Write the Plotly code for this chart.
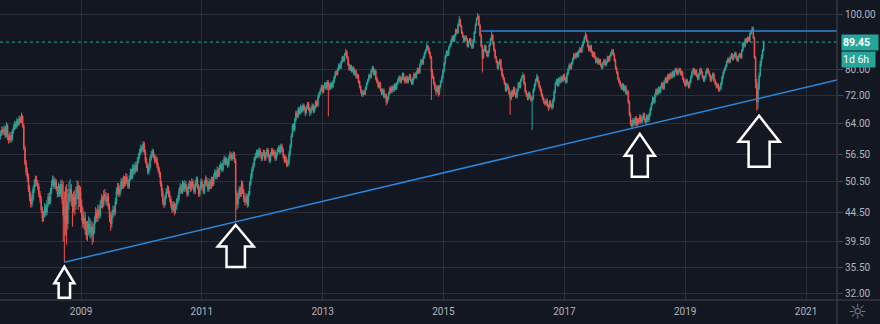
import math
import pandas as pd
import plotly.graph_objects as go

# Weekly bars, first bar on 2007-09-03
FIRST_WEEK = "2007-09-03"

OPEN = [
    60.8, 61.5, 62.5, 61.8, 62.8, 61.0, 63.5, 60.5, 59.8, 61.0,
    60.0, 62.0, 63.0, 64.0, 63.2, 64.8, 64.0, 65.5, 64.8, 66.0,
    63.5, 58.0, 54.5, 52.5, 51.5, 49.0, 47.5, 46.0, 47.0, 49.0,
    50.0, 51.0, 50.0, 49.5, 48.0, 47.0, 45.0, 43.5, 44.0, 45.5,
    44.5, 46.0, 47.5, 46.5, 48.5, 50.0, 51.0, 49.5, 50.5, 49.0,
    48.0, 49.5, 48.0, 50.0, 47.0, 44.0, 43.0, 46.0, 42.5, 46.5,
    48.0, 49.0, 47.0, 45.5, 47.5, 46.0, 48.0, 49.5, 47.0, 48.5,
    46.0, 44.0, 42.5, 43.5, 41.5, 40.5, 41.5, 42.5, 41.0, 42.0,
    40.5, 41.5, 43.0, 44.5, 43.5, 45.0, 44.0, 46.0, 47.0, 46.0,
    48.0, 47.5, 46.5, 47.5, 45.5, 43.5, 42.5, 44.0, 45.0, 44.5,
    46.5, 48.5, 49.5, 48.0, 49.0, 50.5, 49.5, 51.0, 50.0, 51.5,
    50.5, 49.5, 51.0, 52.5, 51.5, 53.5, 52.5, 54.0, 53.0, 55.0,
    56.0, 57.0, 58.0, 57.5, 59.0, 57.0, 55.0, 54.0, 52.5, 53.5,
    55.5, 56.5, 57.0, 56.0, 55.0, 55.5, 54.0, 53.0, 52.0, 50.0,
    48.5, 46.5, 46.0, 47.5, 48.5, 49.0, 48.0, 47.0, 46.0, 45.0,
    46.0, 44.8, 45.5, 46.5, 47.0, 48.5, 49.5, 48.5, 50.0, 49.0,
    50.0, 49.0, 48.0, 49.5, 50.0, 49.0, 50.5, 49.5, 48.5, 50.0,
    51.0, 49.5, 48.0, 49.0, 50.5, 49.5, 48.5, 50.0, 51.0, 50.0,
    49.0, 50.5, 49.5, 51.0, 50.0, 51.5, 52.5, 51.5, 53.0, 52.0,
    53.5, 54.0, 53.0, 54.5, 55.5, 54.5, 55.0, 54.0, 55.5, 56.5,
    55.5, 56.0, 56.5, 55.0, 48.0, 46.0, 47.5, 49.0, 48.0, 50.0,
    48.5, 47.0, 46.5, 47.5, 46.0, 48.0, 50.0, 51.5, 53.0, 54.0,
    55.5, 56.0, 57.0, 56.0, 57.5, 56.5, 55.5, 56.5, 57.0, 55.5,
    56.5, 57.5, 56.0, 55.0, 56.5, 57.5, 56.5, 57.0, 55.5, 56.5,
    57.5, 58.0, 57.0, 58.5, 57.5, 56.0, 55.0, 55.5, 54.0, 54.5,
    56.5, 58.5, 61.0, 63.5, 62.5, 65.0, 67.0, 66.0, 68.0, 67.0,
    68.5, 67.5, 69.0, 68.0, 67.0, 68.5, 69.5, 68.0, 67.0, 68.0,
    69.0, 67.5, 68.5, 70.0, 69.0, 71.5, 72.5, 73.5, 74.5, 73.0,
    74.5, 75.5, 74.0, 76.0, 75.0, 74.0, 75.5, 74.5, 76.0, 77.5,
    79.0, 78.5, 80.0, 81.5, 80.5, 82.5, 84.0, 83.0, 85.0, 86.0,
    84.0, 81.5, 80.0, 81.0, 79.5, 80.5, 78.5, 79.5, 77.5, 78.0,
    76.0, 74.5, 73.0, 72.0, 73.0, 72.5, 74.0, 75.5, 76.5, 78.0,
    77.5, 79.5, 80.5, 78.5, 79.5, 77.0, 76.0, 74.5, 75.5, 73.5,
    72.5, 73.5, 71.5, 72.0, 70.0, 71.0, 72.5, 74.0, 73.0, 74.5,
    73.5, 75.0, 74.0, 75.5, 76.5, 77.5, 76.0, 77.0, 78.5, 77.0,
    76.0, 77.5, 76.0, 77.0, 78.0, 76.5, 75.5, 77.0, 78.5, 77.5,
    79.0, 80.0, 79.0, 81.5, 83.0, 82.0, 84.0, 85.5, 86.5, 88.0,
    87.0, 85.5, 84.0, 79.0, 77.5, 75.5, 74.0, 73.0, 74.5, 72.5,
    74.5, 76.0, 77.5, 79.5, 82.0, 84.5, 86.0, 85.0, 87.5, 88.5,
    90.0, 91.5, 90.0, 92.0, 94.0, 93.0, 96.0, 98.0, 95.5, 93.0,
    91.5, 90.0, 91.5, 90.5, 88.0, 89.5, 90.5, 88.5, 87.5, 90.0,
    93.0, 96.0, 98.5, 99.5, 96.0, 92.0, 88.0, 84.0, 86.5, 88.0,
    86.0, 84.5, 86.0, 88.5, 90.5, 92.0, 89.0, 86.5, 84.0, 82.5,
    80.5, 82.0, 83.0, 80.0, 78.0, 77.0, 75.5, 73.5, 75.0, 74.0,
    72.5, 71.0, 73.0, 72.0, 74.0, 72.5, 71.5, 73.5, 75.5, 74.5,
    76.5, 77.5, 78.0, 75.5, 73.0, 72.0, 71.0, 72.5, 71.5, 70.5,
    71.0, 73.5, 75.0, 76.5, 77.5, 76.0, 74.5, 73.5, 72.0, 71.0,
    70.0, 69.5, 70.5, 69.0, 68.5, 70.0, 69.0, 68.5, 70.5, 73.0,
    75.5, 76.5, 75.0, 77.0, 76.0, 77.5, 76.5, 78.0, 77.0, 76.0,
    78.5, 80.0, 81.5, 80.5, 82.0, 83.5, 85.0, 84.0, 85.5, 84.5,
    86.0, 87.0, 86.0, 88.0, 89.5, 91.0, 92.0, 90.0, 88.0, 86.5,
    88.0, 86.0, 84.5, 85.5, 84.0, 82.5, 83.5, 82.0, 83.0, 81.5,
    80.5, 82.0, 83.0, 81.5, 82.5, 84.0, 83.0, 84.5, 85.5, 86.5,
    85.0, 83.0, 80.5, 79.0, 77.0, 76.0, 75.0, 74.0, 75.0, 73.5,
    74.5, 72.5, 73.0, 70.0, 66.5, 64.0, 63.5, 65.0, 64.0, 65.5,
    63.8, 65.0, 64.5, 66.0, 64.5, 65.5, 66.5, 65.0, 64.5, 66.0,
    65.0, 66.5, 68.0, 69.5, 71.0, 70.0, 72.0, 73.5, 72.5, 74.0,
    73.0, 74.5, 75.5, 74.0, 76.0, 77.0, 76.0, 78.0, 77.0, 78.5,
    77.5, 79.0, 78.0, 79.5, 80.0, 78.5, 79.5, 80.0, 78.5, 79.0,
    77.0, 76.0, 75.0, 76.5, 75.5, 74.5, 76.0, 77.5, 79.0, 80.0,
    78.5, 79.5, 78.0, 77.0, 78.5, 80.0, 79.0, 77.5, 76.5, 77.5,
    79.0, 80.0, 79.0, 78.0, 76.5, 77.5, 78.5, 76.5, 75.5, 74.5,
    75.0, 73.5, 74.0, 75.5, 77.5, 79.0, 80.0, 81.0, 82.5, 83.5,
    82.5, 84.0, 85.0, 83.5, 84.5, 85.5, 84.0, 83.0, 84.5, 85.0,
    84.0, 86.5, 89.0, 88.0, 90.5, 89.5, 91.0, 90.0, 92.5, 93.5,
    94.5, 91.0, 84.0, 76.0, 70.0, 74.0, 78.0, 82.0, 84.0, 86.5,
]

HIGH = [
    62.3, 63.4, 63.2, 63.6, 63.5, 64.5, 64.0, 61.5, 62.0, 61.8,
    62.6, 63.8, 64.8, 64.6, 65.5, 65.3, 66.2, 66.0, 67.0, 66.4,
    64.0, 58.6, 55.2, 53.5, 52.2, 49.8, 48.5, 48.0, 49.6, 51.0,
    51.8, 51.7, 50.8, 50.2, 48.6, 47.6, 45.6, 44.8, 46.3, 46.0,
    46.8, 48.2, 48.3, 49.2, 50.8, 51.8, 51.6, 51.2, 51.0, 49.6,
    50.3, 50.0, 50.8, 51.0, 50.5, 48.5, 49.5, 50.0, 49.0, 50.5,
    51.0, 50.0, 48.0, 48.5, 48.8, 49.5, 50.8, 50.6, 49.8, 49.5,
    47.0, 45.5, 44.8, 44.5, 43.0, 43.0, 43.8, 43.5, 43.2, 42.8,
    42.5, 43.8, 45.5, 45.2, 46.0, 45.8, 46.8, 48.0, 47.6, 48.8,
    49.0, 48.4, 48.2, 48.2, 46.2, 44.5, 44.8, 45.8, 45.7, 47.2,
    49.3, 50.3, 50.2, 49.8, 51.2, 51.3, 51.8, 51.7, 52.3, 52.2,
    51.0, 51.8, 53.3, 53.2, 54.3, 54.2, 54.8, 54.6, 55.8, 56.8,
    57.8, 58.8, 58.6, 59.6, 59.5, 57.6, 55.8, 54.6, 54.3, 56.2,
    57.3, 57.8, 57.6, 56.6, 56.2, 56.0, 54.6, 53.6, 52.6, 50.6,
    49.2, 47.4, 48.0, 49.2, 49.8, 49.6, 48.6, 47.6, 46.6, 46.6,
    46.5, 46.2, 47.2, 47.8, 49.2, 50.2, 50.0, 50.8, 50.6, 50.8,
    50.6, 49.6, 50.2, 50.8, 50.6, 51.2, 51.0, 50.0, 50.8, 51.6,
    51.5, 50.0, 49.6, 51.2, 51.0, 50.0, 50.8, 51.8, 51.5, 50.6,
    51.2, 51.0, 51.6, 51.5, 52.2, 53.2, 53.0, 53.8, 53.5, 54.2,
    54.8, 54.5, 55.2, 56.2, 56.0, 55.8, 55.5, 56.2, 57.2, 57.0,
    56.8, 57.2, 57.0, 55.6, 48.6, 48.3, 49.6, 49.5, 50.8, 50.6,
    49.0, 47.8, 48.2, 48.0, 48.6, 50.6, 52.2, 53.6, 54.6, 56.0,
    56.8, 57.6, 57.5, 58.0, 58.0, 57.0, 57.0, 57.6, 57.5, 57.0,
    58.0, 58.0, 56.6, 57.0, 58.0, 58.0, 57.6, 57.5, 57.0, 58.0,
    58.6, 58.6, 59.0, 59.0, 58.0, 56.5, 56.2, 56.0, 55.2, 57.2,
    59.0, 61.6, 64.0, 64.2, 65.6, 67.6, 67.5, 68.6, 68.5, 69.2,
    69.0, 69.6, 69.5, 68.6, 69.0, 70.0, 70.0, 68.6, 68.6, 69.6,
    69.5, 69.0, 70.6, 70.5, 72.0, 73.0, 74.0, 75.2, 75.0, 75.0,
    76.0, 76.0, 76.6, 76.5, 75.5, 76.0, 76.0, 76.6, 78.0, 79.6,
    79.6, 80.6, 82.0, 82.0, 83.0, 84.6, 84.5, 85.6, 87.0, 86.5,
    84.5, 82.0, 81.6, 81.5, 81.0, 81.0, 80.0, 80.0, 78.6, 78.5,
    76.5, 75.0, 73.6, 73.6, 73.5, 74.6, 76.0, 77.0, 78.6, 78.6,
    80.0, 81.2, 81.0, 80.0, 80.0, 77.6, 76.5, 76.0, 76.0, 74.0,
    74.0, 74.0, 72.6, 72.5, 71.6, 73.0, 74.6, 74.6, 75.0, 75.0,
    75.6, 75.5, 76.0, 77.0, 78.0, 78.0, 77.6, 79.0, 79.0, 77.5,
    78.0, 78.0, 77.6, 78.6, 78.5, 77.0, 77.6, 79.0, 79.0, 79.6,
    80.6, 80.5, 82.0, 83.6, 83.5, 84.6, 86.0, 87.0, 89.0, 88.5,
    87.6, 86.0, 84.5, 80.0, 78.0, 76.0, 75.0, 75.0, 75.0, 75.0,
    76.5, 78.0, 80.0, 82.6, 85.0, 86.6, 86.5, 88.0, 89.0, 90.6,
    92.0, 92.0, 92.6, 94.6, 94.5, 96.6, 99.5, 98.5, 96.0, 93.5,
    92.0, 92.0, 92.0, 91.0, 90.0, 91.0, 91.0, 89.0, 90.6, 93.6,
    96.6, 99.0, 100.8, 100.0, 96.5, 92.5, 88.5, 87.0, 88.6, 88.5,
    86.5, 86.6, 89.0, 91.0, 93.6, 92.5, 89.5, 87.0, 84.5, 83.0,
    82.6, 83.6, 83.5, 80.5, 78.5, 77.5, 76.0, 75.6, 75.5, 74.5,
    73.0, 73.5, 73.5, 74.6, 74.5, 73.0, 74.0, 76.0, 76.0, 77.0,
    78.0, 79.0, 78.5, 76.0, 73.5, 72.5, 73.0, 73.0, 72.0, 71.6,
    74.0, 75.6, 77.0, 78.5, 78.0, 76.5, 75.0, 74.0, 72.5, 71.5,
    70.5, 71.0, 71.0, 69.5, 70.5, 70.5, 69.5, 71.0, 73.5, 76.0,
    77.0, 77.0, 77.5, 77.6, 78.0, 78.0, 78.5, 78.6, 77.5, 79.0,
    80.6, 82.0, 82.0, 82.6, 84.0, 85.6, 85.5, 86.0, 86.0, 86.6,
    87.6, 87.5, 88.6, 90.0, 91.6, 93.5, 92.5, 90.5, 88.5, 88.6,
    88.5, 86.5, 86.0, 86.0, 84.5, 84.0, 84.0, 83.6, 83.5, 82.0,
    82.5, 83.6, 83.5, 83.0, 84.6, 84.5, 85.0, 86.0, 87.0, 87.0,
    85.5, 83.5, 81.0, 79.5, 77.5, 76.5, 75.5, 75.6, 75.5, 75.0,
    75.0, 73.6, 73.5, 70.5, 67.0, 65.0, 65.6, 65.5, 66.0, 66.0,
    65.5, 65.6, 66.6, 66.5, 66.0, 67.0, 67.0, 65.5, 66.6, 66.5,
    67.0, 68.6, 70.0, 71.6, 71.5, 72.6, 74.0, 74.0, 74.6, 74.5,
    75.0, 76.0, 76.0, 76.6, 77.6, 77.5, 78.6, 78.5, 79.0, 79.0,
    79.6, 79.5, 80.0, 80.6, 80.5, 80.0, 80.6, 80.5, 79.6, 79.5,
    77.5, 76.5, 77.0, 77.0, 76.0, 76.5, 78.0, 79.6, 80.6, 80.5,
    80.0, 80.0, 78.5, 79.0, 80.6, 80.5, 79.5, 78.0, 78.0, 79.6,
    80.6, 80.5, 79.5, 78.5, 78.0, 79.0, 79.0, 77.0, 76.0, 75.6,
    75.5, 74.6, 76.0, 78.0, 79.6, 80.6, 81.6, 83.0, 84.0, 84.0,
    84.6, 85.6, 85.5, 85.0, 86.0, 86.0, 84.5, 85.0, 85.6, 85.5,
    87.0, 89.6, 89.5, 91.0, 91.0, 91.6, 91.5, 93.0, 94.0, 95.5,
    95.2, 91.5, 84.5, 77.0, 75.0, 79.0, 83.0, 85.0, 87.0, 90.0,
]

LOW = [
    60.0, 60.9, 61.2, 61.0, 60.3, 60.6, 59.8, 59.0, 59.2, 59.3,
    59.6, 61.4, 62.4, 62.6, 62.8, 63.5, 63.5, 64.2, 64.2, 63.0,
    57.4, 54.0, 51.8, 50.5, 48.4, 46.6, 45.4, 45.5, 46.5, 48.2,
    49.4, 49.6, 48.8, 47.4, 46.3, 44.4, 42.8, 42.9, 43.6, 43.8,
    44.0, 45.5, 46.0, 46.0, 48.0, 49.5, 49.0, 49.0, 48.6, 47.3,
    47.5, 47.4, 47.5, 46.0, 39.5, 36.3, 40.5, 39.0, 41.5, 45.0,
    46.5, 45.8, 42.0, 44.5, 44.0, 45.0, 47.0, 45.0, 45.5, 44.5,
    43.0, 41.8, 41.5, 40.6, 39.8, 39.6, 40.6, 40.2, 40.0, 39.0,
    39.4, 40.8, 42.5, 42.8, 42.8, 43.3, 43.5, 45.3, 45.2, 45.5,
    46.8, 45.8, 45.8, 45.0, 42.8, 41.3, 41.8, 43.4, 43.8, 44.0,
    46.0, 47.8, 47.4, 47.5, 48.5, 49.0, 49.0, 49.4, 49.6, 50.0,
    49.0, 49.0, 50.6, 51.0, 51.0, 52.0, 52.0, 52.5, 52.6, 54.4,
    55.4, 56.4, 56.8, 57.0, 56.4, 54.5, 53.4, 52.0, 52.0, 53.0,
    55.0, 55.8, 55.5, 54.4, 54.5, 53.4, 52.4, 51.4, 49.5, 47.5,
    45.8, 45.3, 45.6, 47.0, 48.0, 47.4, 46.4, 45.4, 44.4, 44.6,
    44.0, 44.3, 45.0, 46.0, 46.6, 48.0, 48.0, 48.0, 48.5, 48.4,
    48.5, 47.4, 47.6, 49.0, 48.4, 48.6, 49.0, 48.0, 48.0, 49.4,
    49.0, 47.4, 47.5, 48.6, 49.0, 48.0, 48.0, 49.5, 49.5, 48.4,
    48.5, 49.0, 49.0, 49.5, 49.6, 51.0, 51.0, 51.0, 51.5, 51.5,
    53.0, 52.5, 52.6, 54.0, 54.0, 54.0, 53.4, 53.6, 55.0, 55.0,
    55.0, 55.4, 54.5, 42.9, 45.0, 45.3, 47.0, 47.4, 47.5, 48.0,
    46.4, 45.8, 46.0, 45.4, 45.6, 47.6, 49.6, 51.0, 52.6, 53.6,
    55.0, 55.6, 55.6, 55.6, 56.0, 55.0, 55.0, 56.0, 55.0, 55.0,
    56.0, 55.6, 54.5, 54.6, 56.0, 56.0, 56.0, 55.0, 55.0, 56.0,
    57.0, 56.5, 56.6, 57.0, 55.5, 54.5, 54.6, 53.6, 53.6, 54.0,
    56.0, 58.0, 60.5, 62.0, 62.0, 64.5, 65.5, 65.5, 66.5, 66.5,
    67.0, 67.0, 67.5, 66.0, 66.5, 68.0, 67.5, 66.0, 66.4, 67.5,
    66.8, 67.0, 68.0, 68.5, 68.6, 71.0, 72.0, 73.0, 72.5, 72.5,
    74.0, 73.5, 73.5, 66.0, 73.5, 73.5, 74.0, 74.0, 75.5, 77.0,
    78.0, 78.0, 79.5, 80.0, 80.0, 82.0, 82.5, 82.5, 84.5, 83.5,
    81.0, 79.5, 79.5, 79.0, 79.0, 78.0, 78.0, 77.0, 77.0, 75.5,
    74.0, 72.5, 71.5, 71.5, 72.0, 72.0, 73.5, 75.0, 76.0, 77.0,
    77.0, 79.0, 78.0, 78.0, 76.5, 75.5, 74.0, 74.0, 73.0, 72.0,
    72.0, 71.0, 71.0, 69.0, 69.5, 70.5, 72.0, 72.5, 72.5, 73.0,
    73.0, 73.5, 73.5, 75.0, 76.0, 75.5, 75.5, 76.5, 76.5, 75.5,
    75.5, 75.5, 75.5, 76.5, 76.0, 75.0, 75.0, 76.5, 77.0, 77.0,
    78.5, 78.5, 78.5, 81.0, 81.5, 81.5, 83.5, 85.0, 86.0, 86.5,
    85.0, 83.5, 70.6, 77.0, 75.0, 73.5, 72.0, 72.5, 71.5, 72.0,
    74.0, 75.5, 77.0, 79.0, 81.5, 84.0, 84.5, 84.5, 87.0, 88.0,
    89.5, 89.5, 89.5, 91.5, 92.5, 92.5, 95.5, 95.0, 92.5, 91.0,
    89.5, 89.5, 90.0, 87.5, 87.5, 89.0, 88.0, 87.0, 87.0, 89.5,
    92.5, 95.5, 98.0, 95.5, 91.5, 87.5, 79.0, 83.5, 86.0, 85.5,
    84.0, 84.0, 85.5, 88.0, 90.0, 88.5, 86.0, 83.5, 82.0, 80.0,
    80.0, 81.5, 79.5, 77.5, 76.5, 75.0, 73.0, 73.0, 73.5, 72.0,
    66.4, 70.5, 71.5, 71.5, 72.0, 71.0, 71.0, 73.0, 74.0, 74.0,
    76.0, 77.0, 75.0, 72.5, 71.5, 70.5, 70.5, 71.0, 70.0, 62.4,
    70.5, 73.0, 74.5, 76.0, 75.5, 74.0, 73.0, 71.5, 70.5, 69.5,
    69.0, 69.0, 68.5, 67.5, 68.0, 68.5, 67.8, 68.0, 70.0, 72.5,
    75.0, 74.5, 74.5, 75.5, 75.5, 76.0, 76.0, 76.5, 75.5, 75.5,
    78.0, 79.5, 80.0, 80.0, 81.5, 83.0, 83.5, 83.5, 84.0, 84.0,
    85.5, 85.5, 85.5, 87.5, 89.0, 90.5, 89.5, 87.5, 86.0, 86.0,
    85.5, 84.0, 84.0, 83.5, 82.0, 82.0, 81.5, 81.5, 81.0, 80.0,
    80.0, 81.5, 81.0, 81.0, 82.0, 82.5, 82.5, 84.0, 85.0, 84.5,
    82.5, 80.0, 78.5, 76.5, 75.5, 74.5, 73.5, 73.5, 73.0, 73.0,
    72.0, 72.0, 69.5, 66.0, 63.5, 63.0, 63.0, 63.5, 63.5, 63.3,
    63.5, 63.8, 64.0, 64.0, 64.0, 65.0, 64.5, 64.0, 64.0, 64.5,
    64.5, 66.0, 67.5, 69.0, 69.5, 69.5, 71.5, 72.0, 72.0, 72.5,
    72.5, 74.0, 73.5, 73.5, 75.5, 75.5, 75.5, 76.5, 76.5, 77.0,
    77.0, 77.5, 77.5, 79.0, 78.0, 78.0, 79.0, 78.0, 78.0, 76.5,
    75.5, 74.5, 74.5, 75.0, 74.0, 74.0, 75.5, 77.0, 78.5, 78.0,
    78.0, 77.5, 76.5, 76.5, 78.0, 78.5, 77.0, 76.0, 76.0, 77.0,
    78.5, 78.5, 77.5, 76.0, 76.0, 77.0, 76.0, 75.0, 74.0, 74.0,
    73.0, 73.0, 73.5, 75.0, 77.0, 78.5, 79.5, 80.5, 82.0, 82.0,
    82.0, 83.5, 83.0, 83.0, 84.0, 83.5, 82.5, 82.5, 84.0, 83.5,
    83.5, 86.0, 87.5, 87.5, 89.0, 89.0, 89.5, 89.5, 92.0, 93.0,
    90.5, 83.5, 74.0, 67.5, 68.0, 73.5, 77.5, 81.0, 83.5, 86.0,
]

CLOSE = [
    61.5, 62.5, 61.8, 62.8, 61.0, 63.5, 60.5, 59.8, 61.0, 60.0,
    62.0, 63.0, 64.0, 63.2, 64.8, 64.0, 65.5, 64.8, 66.0, 63.5,
    58.0, 54.5, 52.5, 51.5, 49.0, 47.5, 46.0, 47.0, 49.0, 50.0,
    51.0, 50.0, 49.5, 48.0, 47.0, 45.0, 43.5, 44.0, 45.5, 44.5,
    46.0, 47.5, 46.5, 48.5, 50.0, 51.0, 49.5, 50.5, 49.0, 48.0,
    49.5, 48.0, 50.0, 47.0, 44.0, 43.0, 46.0, 42.5, 46.5, 48.0,
    49.0, 47.0, 45.5, 47.5, 46.0, 48.0, 49.5, 47.0, 48.5, 46.0,
    44.0, 42.5, 43.5, 41.5, 40.5, 41.5, 42.5, 41.0, 42.0, 40.5,
    41.5, 43.0, 44.5, 43.5, 45.0, 44.0, 46.0, 47.0, 46.0, 48.0,
    47.5, 46.5, 47.5, 45.5, 43.5, 42.5, 44.0, 45.0, 44.5, 46.5,
    48.5, 49.5, 48.0, 49.0, 50.5, 49.5, 51.0, 50.0, 51.5, 50.5,
    49.5, 51.0, 52.5, 51.5, 53.5, 52.5, 54.0, 53.0, 55.0, 56.0,
    57.0, 58.0, 57.5, 59.0, 57.0, 55.0, 54.0, 52.5, 53.5, 55.5,
    56.5, 57.0, 56.0, 55.0, 55.5, 54.0, 53.0, 52.0, 50.0, 48.5,
    46.5, 46.0, 47.5, 48.5, 49.0, 48.0, 47.0, 46.0, 45.0, 46.0,
    44.8, 45.5, 46.5, 47.0, 48.5, 49.5, 48.5, 50.0, 49.0, 50.0,
    49.0, 48.0, 49.5, 50.0, 49.0, 50.5, 49.5, 48.5, 50.0, 51.0,
    49.5, 48.0, 49.0, 50.5, 49.5, 48.5, 50.0, 51.0, 50.0, 49.0,
    50.5, 49.5, 51.0, 50.0, 51.5, 52.5, 51.5, 53.0, 52.0, 53.5,
    54.0, 53.0, 54.5, 55.5, 54.5, 55.0, 54.0, 55.5, 56.5, 55.5,
    56.0, 56.5, 55.0, 48.0, 46.0, 47.5, 49.0, 48.0, 50.0, 48.5,
    47.0, 46.5, 47.5, 46.0, 48.0, 50.0, 51.5, 53.0, 54.0, 55.5,
    56.0, 57.0, 56.0, 57.5, 56.5, 55.5, 56.5, 57.0, 55.5, 56.5,
    57.5, 56.0, 55.0, 56.5, 57.5, 56.5, 57.0, 55.5, 56.5, 57.5,
    58.0, 57.0, 58.5, 57.5, 56.0, 55.0, 55.5, 54.0, 54.5, 56.5,
    58.5, 61.0, 63.5, 62.5, 65.0, 67.0, 66.0, 68.0, 67.0, 68.5,
    67.5, 69.0, 68.0, 67.0, 68.5, 69.5, 68.0, 67.0, 68.0, 69.0,
    67.5, 68.5, 70.0, 69.0, 71.5, 72.5, 73.5, 74.5, 73.0, 74.5,
    75.5, 74.0, 76.0, 75.0, 74.0, 75.5, 74.5, 76.0, 77.5, 79.0,
    78.5, 80.0, 81.5, 80.5, 82.5, 84.0, 83.0, 85.0, 86.0, 84.0,
    81.5, 80.0, 81.0, 79.5, 80.5, 78.5, 79.5, 77.5, 78.0, 76.0,
    74.5, 73.0, 72.0, 73.0, 72.5, 74.0, 75.5, 76.5, 78.0, 77.5,
    79.5, 80.5, 78.5, 79.5, 77.0, 76.0, 74.5, 75.5, 73.5, 72.5,
    73.5, 71.5, 72.0, 70.0, 71.0, 72.5, 74.0, 73.0, 74.5, 73.5,
    75.0, 74.0, 75.5, 76.5, 77.5, 76.0, 77.0, 78.5, 77.0, 76.0,
    77.5, 76.0, 77.0, 78.0, 76.5, 75.5, 77.0, 78.5, 77.5, 79.0,
    80.0, 79.0, 81.5, 83.0, 82.0, 84.0, 85.5, 86.5, 88.0, 87.0,
    85.5, 84.0, 79.0, 77.5, 75.5, 74.0, 73.0, 74.5, 72.5, 74.5,
    76.0, 77.5, 79.5, 82.0, 84.5, 86.0, 85.0, 87.5, 88.5, 90.0,
    91.5, 90.0, 92.0, 94.0, 93.0, 96.0, 98.0, 95.5, 93.0, 91.5,
    90.0, 91.5, 90.5, 88.0, 89.5, 90.5, 88.5, 87.5, 90.0, 93.0,
    96.0, 98.5, 99.5, 96.0, 92.0, 88.0, 84.0, 86.5, 88.0, 86.0,
    84.5, 86.0, 88.5, 90.5, 92.0, 89.0, 86.5, 84.0, 82.5, 80.5,
    82.0, 83.0, 80.0, 78.0, 77.0, 75.5, 73.5, 75.0, 74.0, 72.5,
    71.0, 73.0, 72.0, 74.0, 72.5, 71.5, 73.5, 75.5, 74.5, 76.5,
    77.5, 78.0, 75.5, 73.0, 72.0, 71.0, 72.5, 71.5, 70.5, 71.0,
    73.5, 75.0, 76.5, 77.5, 76.0, 74.5, 73.5, 72.0, 71.0, 70.0,
    69.5, 70.5, 69.0, 68.5, 70.0, 69.0, 68.5, 70.5, 73.0, 75.5,
    76.5, 75.0, 77.0, 76.0, 77.5, 76.5, 78.0, 77.0, 76.0, 78.5,
    80.0, 81.5, 80.5, 82.0, 83.5, 85.0, 84.0, 85.5, 84.5, 86.0,
    87.0, 86.0, 88.0, 89.5, 91.0, 92.0, 90.0, 88.0, 86.5, 88.0,
    86.0, 84.5, 85.5, 84.0, 82.5, 83.5, 82.0, 83.0, 81.5, 80.5,
    82.0, 83.0, 81.5, 82.5, 84.0, 83.0, 84.5, 85.5, 86.5, 85.0,
    83.0, 80.5, 79.0, 77.0, 76.0, 75.0, 74.0, 75.0, 73.5, 74.5,
    72.5, 73.0, 70.0, 66.5, 64.0, 63.5, 65.0, 64.0, 65.5, 63.8,
    65.0, 64.5, 66.0, 64.5, 65.5, 66.5, 65.0, 64.5, 66.0, 65.0,
    66.5, 68.0, 69.5, 71.0, 70.0, 72.0, 73.5, 72.5, 74.0, 73.0,
    74.5, 75.5, 74.0, 76.0, 77.0, 76.0, 78.0, 77.0, 78.5, 77.5,
    79.0, 78.0, 79.5, 80.0, 78.5, 79.5, 80.0, 78.5, 79.0, 77.0,
    76.0, 75.0, 76.5, 75.5, 74.5, 76.0, 77.5, 79.0, 80.0, 78.5,
    79.5, 78.0, 77.0, 78.5, 80.0, 79.0, 77.5, 76.5, 77.5, 79.0,
    80.0, 79.0, 78.0, 76.5, 77.5, 78.5, 76.5, 75.5, 74.5, 75.0,
    73.5, 74.0, 75.5, 77.5, 79.0, 80.0, 81.0, 82.5, 83.5, 82.5,
    84.0, 85.0, 83.5, 84.5, 85.5, 84.0, 83.0, 84.5, 85.0, 84.0,
    86.5, 89.0, 88.0, 90.5, 89.5, 91.0, 90.0, 92.5, 93.5, 94.5,
    91.0, 84.0, 76.0, 70.0, 74.0, 78.0, 82.0, 84.0, 86.5, 89.45,
]

LAST_PRICE = 89.45
BAR_COUNTDOWN = "1d 6h"

# Support trend line (two lows, extended to the right edge) and resistance level
TREND_DATES = ["2008-09-22", "2021-07-07"]
TREND_PRICES = [36.3, 76.6]
RESIST_DATES = ["2015-08-17", "2021-07-07"]
RESIST_PRICES = [93.6, 93.6]

# Lows marked with hollow up-arrows
MARKED_DATES = ["2008-09-22", "2011-07-25", "2018-04-02", "2020-03-23"]
MARKED_LOWS = [36.3, 42.9, 64.0, 67.5]

Y_TICKS = [32.0, 35.5, 39.5, 44.5, 50.5, 56.5, 64.0, 72.0, 80.0, 100.0]
X_RANGE = ["2007-08-30", "2021-07-07"]
Y_RANGE = [31.1, 106.3]

BG = "#131722"
GRID = "#2a2e39"
BORDER = "#434651"
TEXT = "#b2b5be"
UP = "#26a69a"
DOWN = "#ef5350"
LINE_BLUE = "#2a86db"

dates = pd.date_range(FIRST_WEEK, periods=len(CLOSE), freq="7D")

fig = go.Figure()
fig.add_trace(go.Candlestick(
    x=dates, open=OPEN, high=HIGH, low=LOW, close=CLOSE,
    increasing=dict(line=dict(color=UP, width=1), fillcolor=UP),
    decreasing=dict(line=dict(color=DOWN, width=1), fillcolor=DOWN),
    whiskerwidth=0, hoverinfo="skip", showlegend=False,
))
fig.add_trace(go.Scatter(
    x=TREND_DATES, y=TREND_PRICES, mode="lines",
    line=dict(color=LINE_BLUE, width=1.5), hoverinfo="skip", showlegend=False,
))
fig.add_trace(go.Scatter(
    x=RESIST_DATES, y=RESIST_PRICES, mode="lines",
    line=dict(color=LINE_BLUE, width=1.5), hoverinfo="skip", showlegend=False,
))

shapes = []
# last-price dotted line
shapes.append(dict(type="line", xref="paper", x0=0, x1=1, yref="y",
                   y0=LAST_PRICE, y1=LAST_PRICE,
                   line=dict(color=UP, width=1, dash="dot"), layer="above"))

# hollow arrows under the marked lows (pixel geometry relative to each low)
arrow_geom = [
    # gap, head half-width, head height, shaft half-width, total length
    (4.5, 10, 16.5, 5.7, 31),
    (3.5, 18, 21.5, 9.2, 42),
    (10, 15, 22, 8, 43),
    (5, 20.5, 26, 10.5, 51),
]
for d, p, (gap, hw, hh, sw, ln) in zip(MARKED_DATES, MARKED_LOWS, arrow_geom):
    t, b, h = -gap, -(gap + ln), -(gap + hh)
    path = (f"M0,{t} L{hw},{h} L{sw},{h} L{sw},{b} L{-sw},{b} "
            f"L{-sw},{h} L{-hw},{h} Z")
    shapes.append(dict(type="path", xref="x", yref="y",
                       xsizemode="pixel", ysizemode="pixel",
                       xanchor=d, yanchor=p, path=path,
                       line=dict(color="#ffffff", width=2.5),
                       fillcolor=BG, layer="above"))

# pane separators
shapes.append(dict(type="line", xref="paper", yref="paper", x0=0, x1=880 / 837,
                   y0=0, y1=0, line=dict(color=BORDER, width=1)))
shapes.append(dict(type="line", xref="paper", yref="paper", x0=1, x1=1,
                   y0=-24 / 300, y1=1, line=dict(color=BORDER, width=1)))

annotations = [
    dict(xref="paper", x=1, xshift=4, xanchor="left", yref="y",
         y=math.log10(LAST_PRICE), text=f"<b>{LAST_PRICE:.2f}</b>",
         showarrow=False, bgcolor=UP, font=dict(color="#ffffff", size=10.5,
                                                family="Roboto"),
         width=34, height=13, borderpad=1, align="left"),
    dict(xref="paper", x=1, xshift=4, xanchor="left", yref="y",
         y=math.log10(LAST_PRICE), yshift=-17, text=BAR_COUNTDOWN,
         showarrow=False, bgcolor=UP, font=dict(color="#ffffff", size=10.5,
                                                family="Roboto"),
         width=31, height=13, borderpad=1, align="left"),
    # settings gear in the corner below the price scale
    dict(xref="paper", x=857 / 837, xanchor="center",
         yref="paper", y=-12 / 300, yanchor="middle",
         text="☼", showarrow=False,
         font=dict(color="#787b86", size=21, family="DejaVu Sans")),
]

fig.update_layout(
    width=880, height=324,
    margin=dict(l=0, r=43, t=0, b=24),
    paper_bgcolor=BG, plot_bgcolor=BG,
    shapes=shapes, annotations=annotations,
    showlegend=False, hovermode=False,
    font=dict(family="Roboto", color=TEXT, size=10),
    xaxis=dict(
        type="date", range=X_RANGE, rangeslider=dict(visible=False),
        tick0="2009-01-01", dtick="M24", tickformat="%Y",
        showgrid=True, gridcolor=GRID, gridwidth=1,
        ticks="", showline=False, zeroline=False,
        tickfont=dict(size=10, color=TEXT, family="Roboto"),
        ticklabelstandoff=4, fixedrange=True,
    ),
    yaxis=dict(
        type="log", side="right",
        range=[math.log10(Y_RANGE[0]), math.log10(Y_RANGE[1])],
        tickvals=Y_TICKS, ticktext=[f"{v:.2f}" for v in Y_TICKS],
        showgrid=True, gridcolor=GRID, gridwidth=1,
        ticks="outside", ticklen=5, tickcolor=BORDER,
        showline=False, zeroline=False,
        tickfont=dict(size=10, color=TEXT, family="Roboto"),
        fixedrange=True,
    ),
)

fig.write_html("out.html", config={"displayModeBar": False})
